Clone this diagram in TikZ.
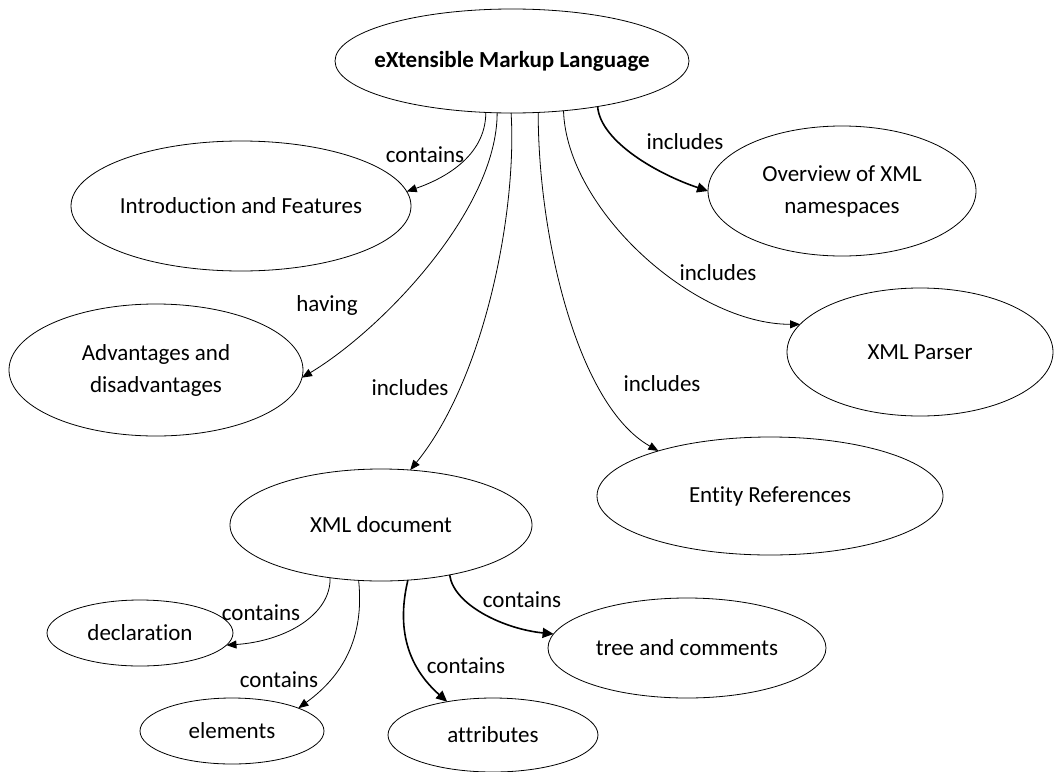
\documentclass[tikz,border=0pt]{standalone}
\usepackage{fontspec}
\setmainfont{Carlito}[Ligatures={NoCommon}]
\usetikzlibrary{shapes.geometric,arrows.meta}
\newcommand{\zw}[1]{\makebox[0pt]{#1}}
\newcommand{\twol}[2]{\makebox[0pt]{\begin{tabular}{@{}c@{}}#1\\#2\end{tabular}}}
\begin{document}
\begin{tikzpicture}[x=1pt,y=-1pt,
  ell/.style={draw, ellipse, inner sep=0pt, outer sep=0pt, line width=0.8pt, font=\fontsize{23}{32}\selectfont},
  lbl/.style={inner sep=0pt, font=\fontsize{23}{32}\selectfont},
  conn/.style={line width=0.8pt, -{Triangle[length=10pt,width=8pt]}},
  boldconn/.style={line width=1.6pt, -{Triangle[length=11pt,width=10pt]}}
]
\useasboundingbox (0,0) rectangle (1054,771);

% nodes
\node[ell, minimum width=354pt, minimum height=104pt] (xml) at (512,61) {\zw{\bfseries eXtensible Markup Language}};
\node[ell, minimum width=340pt, minimum height=130pt] (intro) at (241,206) {\zw{Introduction and Features}};
\node[ell, minimum width=294pt, minimum height=132pt] (adv) at (156,370) {\twol{Advantages and}{disadvantages}};
\node[ell, minimum width=268pt, minimum height=130pt] (ovw) at (842,191) {\twol{Overview of XML}{namespaces}};
\node[ell, minimum width=266pt, minimum height=128pt] (parser) at (920,352) {\zw{XML Parser}};
\node[ell, minimum width=346pt, minimum height=118pt] (ent) at (770,496) {\zw{Entity References}};
\node[ell, minimum width=302pt, minimum height=112pt] (doc) at (381,525) {\zw{XML document}};
\node[ell, minimum width=186pt, minimum height=66pt] (decl) at (140,633) {\zw{declaration}};
\node[ell, minimum width=184pt, minimum height=66pt] (elem) at (232,731) {\zw{elements}};
\node[ell, minimum width=210pt, minimum height=74pt] (attr) at (493,735) {\zw{attributes}};
\node[ell, minimum width=278pt, minimum height=100pt] (tree) at (687,648) {\zw{tree and comments}};

% connectors from the root
\draw[conn] (xml.-117.7) .. controls +(0,45) and +(35,-12) .. (intro.5.4);
\draw[conn] (xml.-106.2) .. controls +(0,97) and +(80,-48) .. (adv.-3);
\draw[conn] (xml.-91) .. controls +(6,97) and +(75,-92) .. (doc.62.2);
\draw[conn] (xml.-63.2) .. controls +(0,127) and +(-80,-45) .. (ent.158);
\draw[conn] (xml.-44.9) .. controls +(3,98) and +(-107,0) .. (parser.167.6);
\draw[boldconn] (xml.-28.9) .. controls +(3,36) and +(-48,-16) .. (ovw.180);

% connectors from XML document
\draw[conn] (doc.-134.7) .. controls +(1,37) and +(59,-4) .. (decl.-8.6);
\draw[conn] (doc.-112.6) .. controls +(6,58) and +(44,-32) .. (elem.19.2);
\draw[boldconn] (doc.-64.8) .. controls +(-13,55) and +(-35,-31) .. (attr.144.7);
\draw[boldconn] (doc.-36.8) .. controls +(4,30) and +(-50,-5) .. (tree.174.6);

% labels
\node[lbl] (l1) at (425,155) {contains};
\node[lbl] (l2) at (327,305) {having};
\node[lbl] (l3) at (410,388) {includes};
\node[lbl] (l4) at (662,384) {includes};
\node[lbl] (l5) at (718,273) {includes};
\node[lbl] (l6) at (685,142) {includes};
\node[lbl] (l7) at (261,613) {contains};
\node[lbl] (l8) at (279,680) {contains};
\node[lbl] (l9) at (466,666) {contains};
\node[lbl] (l10) at (522,600) {contains};
\end{tikzpicture}
\end{document}
